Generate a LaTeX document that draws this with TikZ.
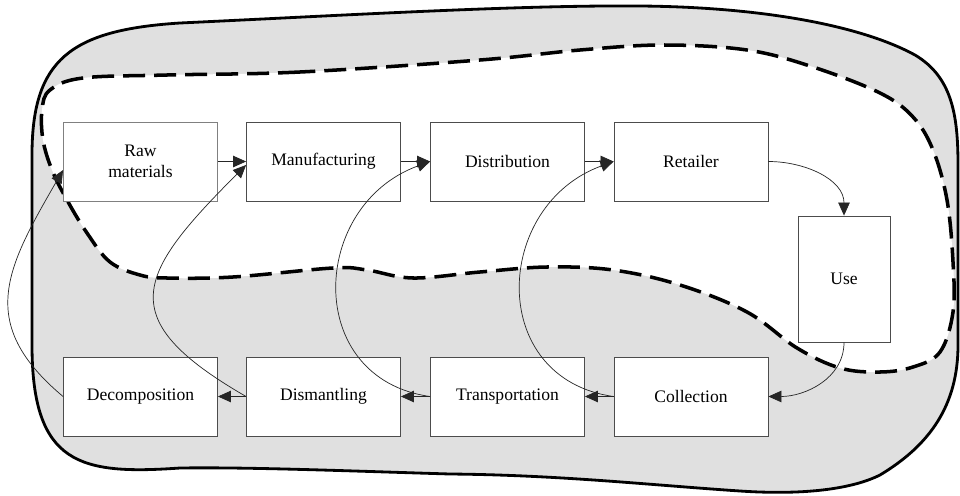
\documentclass[tikz,border=0pt]{standalone}
\usepackage{fontspec}
\setmainfont{Liberation Serif}
\usetikzlibrary{arrows.meta}

\definecolor{zonegray}{RGB}{224,224,224}

\begin{document}
\begin{tikzpicture}[x=0.02cm, y=0.02cm, >={Triangle[length=2.6mm, width=2.3mm]},
    every node/.style={rectangle, draw=black!70, fill=white, line width=0.5pt, minimum width=3.08cm, minimum height=1.58cm, align=center, font=\fontsize{10}{12}\selectfont},
    link/.style={->, draw=black!85, line width=0.4pt}]
    \useasboundingbox (0,0) rectangle (960,495);

    % Outer zone
    \fill[zonegray] (32,150) -- (32,340)
        .. controls (32,435) and (70,465) .. (180,472)
        .. controls (350,480) and (520,490) .. (640,489)
        .. controls (760,488) and (860,470) .. (915,440)
        .. controls (952,418) and (958,380) .. (958,330) -- (958,150)
        .. controls (958,90) and (930,50) .. (880,20)
        .. controls (850,5) and (800,0) .. (740,4)
        .. controls (650,10) and (560,20) .. (450,21)
        .. controls (350,24) and (250,28) .. (180,27)
        .. controls (80,20) and (32,30) .. (32,150) -- cycle;

    % Inner zone
    \fill[white] plot[smooth cycle, tension=0.6] coordinates {
        (480,435) (300,423) (167,420) (83,417) (50,405) (42,385) (43,355) (52,325)
        (67,295) (87,262) (110,233) (140,220) (167,217) (233,218) (333,227) (367,225)
        (413,217) (480,223) (547,228) (613,225) (680,210) (747,183) (797,147) (840,127)
        (880,123) (913,128) (940,143) (953,183) (953,233) (947,295) (933,345) (913,378)
        (880,402) (813,428) (747,445) (663,450) (580,445)};
    \draw[line width=2pt, dash pattern=on 4.4mm off 1.8mm] plot[smooth cycle, tension=0.6] coordinates {
        (480,435) (300,423) (167,420) (83,417) (50,405) (42,385) (43,355) (52,325)
        (67,295) (87,262) (110,233) (140,220) (167,217) (233,218) (333,227) (367,225)
        (413,217) (480,223) (547,228) (613,225) (680,210) (747,183) (797,147) (840,127)
        (880,123) (913,128) (940,143) (953,183) (953,233) (947,295) (933,345) (913,378)
        (880,402) (813,428) (747,445) (663,450) (580,445)};
    \draw[line width=1.6pt] (32,150) -- (32,340)
        .. controls (32,435) and (70,465) .. (180,472)
        .. controls (350,480) and (520,490) .. (640,489)
        .. controls (760,488) and (860,470) .. (915,440)
        .. controls (952,418) and (958,380) .. (958,330) -- (958,150)
        .. controls (958,90) and (930,50) .. (880,20)
        .. controls (850,5) and (800,0) .. (740,4)
        .. controls (650,10) and (560,20) .. (450,21)
        .. controls (350,24) and (250,28) .. (180,27)
        .. controls (80,20) and (32,30) .. (32,150) -- cycle;

    % Stages
    \node[draw=black!50] (raw) at (140.5, 333.5) {Raw\\materials};
    \node (manu) at (323.5, 333.5) {Manufacturing};
    \node (dist) at (507.5, 333.5) {Distribution};
    \node (ret) at (691, 333.5) {Retailer};
    \node[minimum width=1.84cm, minimum height=2.52cm] (use) at (844, 216) {Use};
    \node (dec) at (140.5, 98.5) {Decomposition};
    \node (dis) at (323.5, 98.5) {Dismantling};
    \node (trans) at (507.5, 98.5) {Transportation};
    \node (coll) at (691, 98.5) {Collection};

    % Flows
    \draw[link] (raw.east) -- (manu.west);
    \draw[link] (manu.east) -- (dist.west);
    \draw[link] (dist.east) -- (ret.west);
    \draw[link] (ret.east) to[out=0, in=90] (use.north);
    \draw[link] (use.south) to[out=270, in=0] (coll.east);
    \draw[link] (coll.west) -- (trans.east);
    \draw[link] (trans.west) -- (dis.east);
    \draw[link] (dis.west) -- (dec.east);

    % Return loops
    \draw[link] (dec.west) to[out=140, in=240, looseness=1.29] ([yshift=-0.17cm]raw.west);
    \draw[link] (dis.west) to[out=150, in=225, looseness=1.72] ([yshift=-0.07cm]manu.west);
    \draw[link] (trans.west) to[out=172, in=200, looseness=1.4] (dist.west);
    \draw[link] (coll.west) to[out=172, in=200, looseness=1.4] (ret.west);
\end{tikzpicture}
\end{document}
